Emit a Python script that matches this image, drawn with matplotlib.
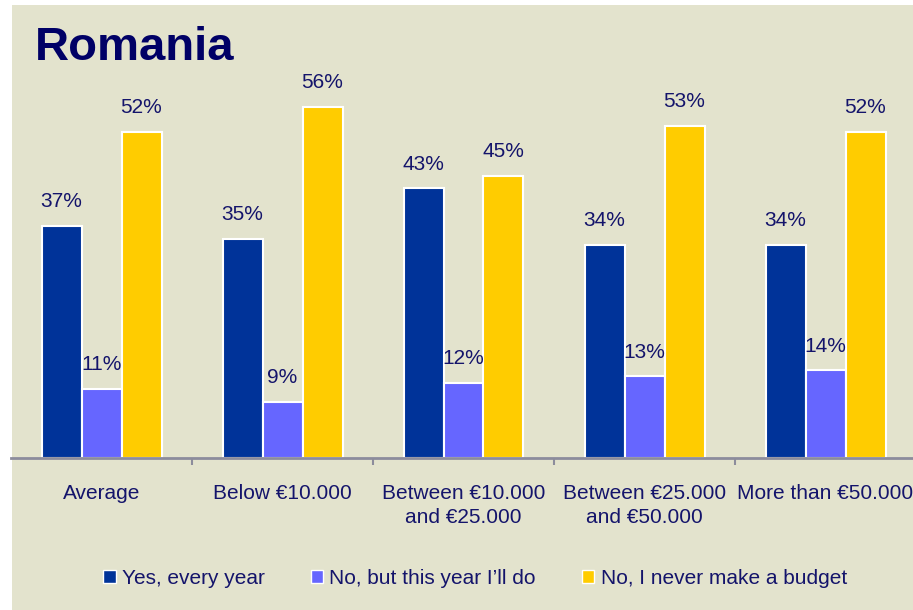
import matplotlib
matplotlib.use("Agg")
import matplotlib.pyplot as plt
from matplotlib.patches import Patch, Rectangle
import numpy as np

plt.rcParams['font.family'] = ['Liberation Sans', 'DejaVu Sans']

categories = ["Average", "Below €10.000", "Between €10.000\nand €25.000",
              "Between €25.000\nand €50.000", "More than €50.000"]
series_names = ["Yes, every year", "No, but this year I\u2019ll do", "No, I never make a budget"]
yes_every_year = [37, 35, 43, 34, 34]
no_this_year = [11, 9, 12, 13, 14]
never_budget = [52, 56, 45, 53, 52]
colors = ["#003399", "#6666FF", "#FFCC00"]

BG = "#E3E3CD"
TXT = "#14146B"

W, H = 913, 610
fig = plt.figure(figsize=(W/100, H/100), dpi=100, facecolor="white")
# beige panel
fig.patches.append(Rectangle((12/W, 0), 1, 1 - 5/H, transform=fig.transFigure,
                             facecolor=BG, edgecolor="none", zorder=-10))

ax_left = 11/W
ax_width = 905/W
ax_bottom = (H - 458)/H
ax_top = (H - 60)/H
ax = fig.add_axes([ax_left, ax_bottom, ax_width, ax_top - ax_bottom])
ax.set_facecolor("none")
ax.set_zorder(1)

px_per_pct = 6.27
ax.set_ylim(0, 398/px_per_pct)
ax.set_xlim(-0.5, len(categories) - 0.5)

x = np.arange(len(categories))
bw = 40/181
data = [yes_every_year, no_this_year, never_budget]
for i, (vals, c) in enumerate(zip(data, colors)):
    pos = x + (i - 1) * bw
    ax.bar(pos, vals, width=bw, color=c, edgecolor="white", linewidth=1.5, zorder=2)
    for p, v in zip(pos, vals):
        ax.annotate(f"{v}%", (p, v), xytext=(0, 10.5), textcoords="offset points",
                    ha="center", va="bottom", fontsize=15, color=TXT)

for s in ["top", "right", "left"]:
    ax.spines[s].set_visible(False)
ax.spines["bottom"].set_color("#8C8C9C")
ax.spines["bottom"].set_linewidth(2)
ax.spines["bottom"].set_zorder(3)
ax.set_yticks([])

ax.set_xticks(x)
ax.set_xticklabels(categories, fontsize=15, color=TXT, linespacing=1.3)
ax.tick_params(axis="x", which="major", length=0, pad=19)
ax.set_xticks(np.arange(0.5, len(categories) - 0.5, 1), minor=True)
ax.tick_params(axis="x", which="minor", length=5, width=1.5, color="#8C8C9C", direction="out")

fig.text(35/W, 1 - 60/H, "Romania", fontsize=34, fontweight="bold", color="#000066",
         ha="left", va="baseline")

handles = [Patch(facecolor=c, edgecolor="white", linewidth=1.0) for c in colors]
leg = fig.legend(handles, series_names, loc="center", bbox_to_anchor=(475/W, 32/H),
                 ncol=3, frameon=False, fontsize=15, handlelength=0.6, handleheight=0.6,
                 handletextpad=0.3, columnspacing=2.2)
for t in leg.get_texts():
    t.set_color(TXT)

fig.savefig("out.png", dpi=100, facecolor=fig.get_facecolor())
